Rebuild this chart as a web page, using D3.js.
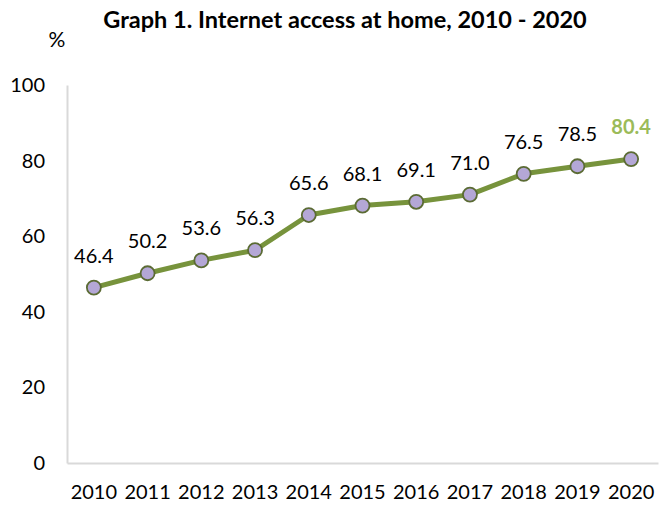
<!DOCTYPE html>
<html>
<head>
<meta charset="utf-8">
<script src="https://cdn.jsdelivr.net/npm/d3@7"></script>
<style>
  body { margin: 0; background: #fff; }
  text { font-family: Lato, "Open Sans", sans-serif; }
</style>
</head>
<body>
<div id="chart"></div>
<script>
// data
var years = ["2010", "2011", "2012", "2013", "2014", "2015", "2016", "2017", "2018", "2019", "2020"];
var access = [46.4, 50.2, 53.6, 56.3, 65.6, 68.1, 69.1, 71.0, 76.5, 78.5, 80.4];
var yTicks = [0, 20, 40, 60, 80, 100];

var svgWidth = 659;
var svgHeight = 507;

var margin = { top: 85, right: 1, bottom: 44, left: 67 };
var width = svgWidth - margin.left - margin.right;
var height = svgHeight - margin.top - margin.bottom;

var svg = d3.select("#chart")
  .append("svg")
  .attr("width", svgWidth)
  .attr("height", svgHeight);

var chartGroup = svg.append("g")
  .attr("transform", `translate(${margin.left}, ${margin.top})`);

// scales
var xScale = d3.scaleBand()
  .domain(years)
  .range([0, width]);

var yScale = d3.scaleLinear()
  .domain([0, 100])
  .range([height, 0]);

// title
svg.append("text")
  .attr("x", 345)
  .attr("y", 28)
  .attr("text-anchor", "middle")
  .style("font-size", "23.5px")
  .style("font-weight", "bold")
  .text("Graph 1. Internet access at home, 2010 - 2020");

svg.append("text")
  .attr("x", 57)
  .attr("y", 47)
  .attr("text-anchor", "middle")
  .style("font-size", "21px")
  .text("%");

// axes
var leftAxis = d3.axisLeft(yScale).tickValues(yTicks).tickSize(0).tickPadding(22);
var bottomAxis = d3.axisBottom(xScale).tickSize(0).tickPadding(22);

var yAxisG = chartGroup.append("g").call(leftAxis);
var xAxisG = chartGroup.append("g")
  .attr("transform", `translate(0, ${height})`)
  .call(bottomAxis);

[yAxisG, xAxisG].forEach(function(g) {
  g.select(".domain").attr("stroke", "#d9d9d9").attr("stroke-width", 2);
  g.selectAll("text")
    .style("font-size", "20px")
    .style("font-family", "Lato, 'Open Sans', sans-serif")
    .attr("fill", "#000");
});

// line
var data = years.map(function(y, i) { return { year: y, value: access[i] }; });

var line = d3.line()
  .x(d => xScale(d.year) + xScale.bandwidth() / 2)
  .y(d => yScale(d.value));

chartGroup.append("path")
  .datum(data)
  .attr("d", line)
  .attr("fill", "none")
  .attr("stroke", "#77933c")
  .attr("stroke-width", 5)
  .attr("stroke-linejoin", "round");

chartGroup.selectAll("circle")
  .data(data)
  .enter()
  .append("circle")
  .attr("cx", d => xScale(d.year) + xScale.bandwidth() / 2)
  .attr("cy", d => yScale(d.value))
  .attr("r", 7)
  .attr("fill", "#b4a7d6")
  .attr("stroke", "#5b6b34")
  .attr("stroke-width", 1.8);

// value labels
chartGroup.selectAll(".vlabel")
  .data(data)
  .enter()
  .append("text")
  .attr("class", "vlabel")
  .attr("x", d => xScale(d.year) + xScale.bandwidth() / 2)
  .attr("y", d => yScale(d.value) - 25)
  .attr("text-anchor", "middle")
  .style("font-size", "20px")
  .style("font-weight", (d, i) => i === data.length - 1 ? "bold" : "normal")
  .attr("fill", (d, i) => i === data.length - 1 ? "#9bbb59" : "#000")
  .text(d => d.value.toFixed(1));
</script>
</body>
</html>
